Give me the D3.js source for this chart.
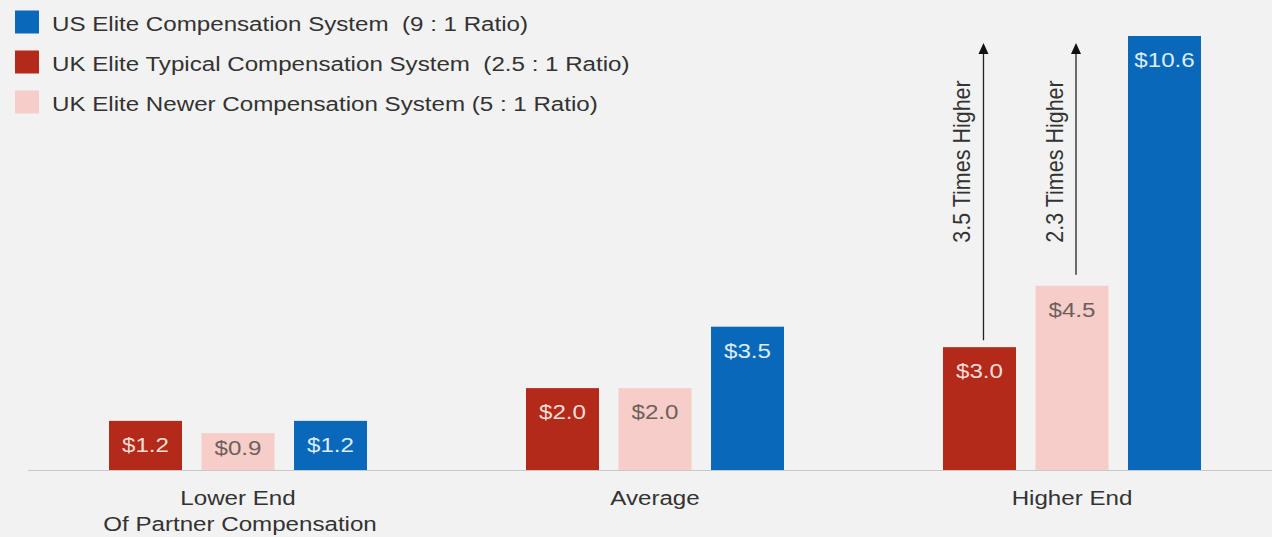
<!DOCTYPE html>
<html>
<head>
<meta charset="utf-8">
<script src="https://cdn.jsdelivr.net/npm/d3@7"></script>
<style>
  html, body { margin: 0; padding: 0; background: #f2f2f2; }
  svg { display: block; font-family: "Liberation Sans", Arial, sans-serif; }
  text { white-space: pre; }
</style>
</head>
<body>
<svg id="chart" width="1272" height="537"></svg>
<script>
// Partner compensation (US$ millions) by compensation system
const groups = ["Lower End", "Average", "Higher End"];
const groupLines = [["Lower End", "Of Partner Compensation"], ["Average"], ["Higher End"]];
const seriesKeys = ["ukTypical", "ukNewer", "us"];
const ukTypical = [1.2, 2.0, 3.0];
const ukNewer = [0.9, 2.0, 4.5];
const us = [1.2, 3.5, 10.6];
const legendKeys = ["us", "ukTypical", "ukNewer"];
const legendLabels = [
  "US Elite Compensation System  (9 : 1 Ratio)",
  "UK Elite Typical Compensation System  (2.5 : 1 Ratio)",
  "UK Elite Newer Compensation System (5 : 1 Ratio)"
];
const arrowSeries = ["ukTypical", "ukNewer"];
const arrowLabels = ["3.5 Times Higher", "2.3 Times Higher"];

const values = { ukTypical, ukNewer, us };
const colors = { ukTypical: "#b3291a", ukNewer: "#f6cdc8", us: "#0a68bb" };
const labelColors = { ukTypical: "#f6dfd6", ukNewer: "#6e5f5d", us: "#dcedf9" };

const svg = d3.select("#chart");
const baseY = 470;
const sx = 1.15;      // horizontal text stretch
const sxRot = 1.12;   // stretch for the rotated notes

const y = d3.scaleLinear().domain([0, 10.6]).range([baseY, 36]);
const x0 = d3.scaleBand().domain(groups).range([29, 1280]).padding(0);
const x1 = d3.scaleBand().domain(seriesKeys).range([80, 338]).paddingInner(0.211).paddingOuter(0);

const rows = groups.map((g, i) => ({
  group: g,
  bars: seriesKeys.map(k => ({ key: k, value: values[k][i], group: g }))
}));

// baseline
svg.append("line")
  .attr("x1", 28).attr("x2", 1272)
  .attr("y1", baseY + 0.5).attr("y2", baseY + 0.5)
  .attr("stroke", "#c9c9c9").attr("stroke-width", 1);

const gGroups = svg.selectAll("g.grp").data(rows).join("g")
  .attr("class", "grp")
  .attr("transform", d => `translate(${x0(d.group)},0)`);

gGroups.selectAll("rect").data(d => d.bars).join("rect")
  .attr("x", d => x1(d.key))
  .attr("width", x1.bandwidth())
  .attr("y", d => y(d.value))
  .attr("height", d => baseY - y(d.value))
  .attr("fill", d => colors[d.key]);

gGroups.selectAll("text.val").data(d => d.bars).join("text")
  .attr("class", "val")
  .attr("transform", d => {
    const h = baseY - y(d.value);
    const off = Math.min(31, h - 15);
    return `translate(${x1(d.key) + x1.bandwidth() / 2},${y(d.value) + off}) scale(${sx},1)`;
  })
  .attr("text-anchor", "middle")
  .attr("font-size", 21)
  .attr("fill", d => labelColors[d.key])
  .text(d => "$" + d3.format(".1f")(d.value));

// category labels
groups.forEach((g, i) => {
  const cx = x0(g) + x1(seriesKeys[0]) + (x1(seriesKeys[2]) + x1.bandwidth() - x1(seriesKeys[0])) / 2;
  groupLines[i].forEach((line, j) => {
    svg.append("text")
      .attr("transform", `translate(${cx + (j ? 2 : 0)},${505 + j * 26}) scale(${sx},1)`)
      .attr("text-anchor", "middle")
      .attr("font-size", 21)
      .attr("fill", "#333")
      .text(line);
  });
});

// ratio arrows from the high-end UK bars to the US level
const hiIdx = groups.length - 1;
const topY = y(d3.max(us)) + 7;
arrowSeries.forEach((k, i) => {
  const ax = x0(groups[hiIdx]) + x1(k) + x1.bandwidth() / 2 + 4;
  const startY = y(values[k][hiIdx]) - (i ? 11 : 7);
  svg.append("line")
    .attr("x1", ax).attr("x2", ax)
    .attr("y1", startY).attr("y2", topY + 8)
    .attr("stroke", "#222").attr("stroke-width", 1.3);
  svg.append("path")
    .attr("d", `M${ax - 5},${topY + 11} L${ax},${topY} L${ax + 5},${topY + 11} Z`)
    .attr("fill", "#111");
  svg.append("text")
    .attr("transform", `translate(${ax - 13},161.5) scale(${sxRot},1) rotate(-90)`)
    .attr("text-anchor", "middle")
    .attr("font-size", 21.5)
    .attr("fill", "#333")
    .text(arrowLabels[i]);
});

// legend
const leg = svg.selectAll("g.leg").data(legendKeys).join("g")
  .attr("class", "leg")
  .attr("transform", (d, i) => `translate(15,${10.5 + i * 40})`);
leg.append("rect").attr("width", 24).attr("height", 23).attr("fill", d => colors[d]);
leg.append("text")
  .attr("transform", `translate(37,20.5) scale(${sx},1)`)
  .attr("font-size", 21)
  .attr("fill", "#333")
  .text((d, i) => legendLabels[i]);
</script>
</body>
</html>
